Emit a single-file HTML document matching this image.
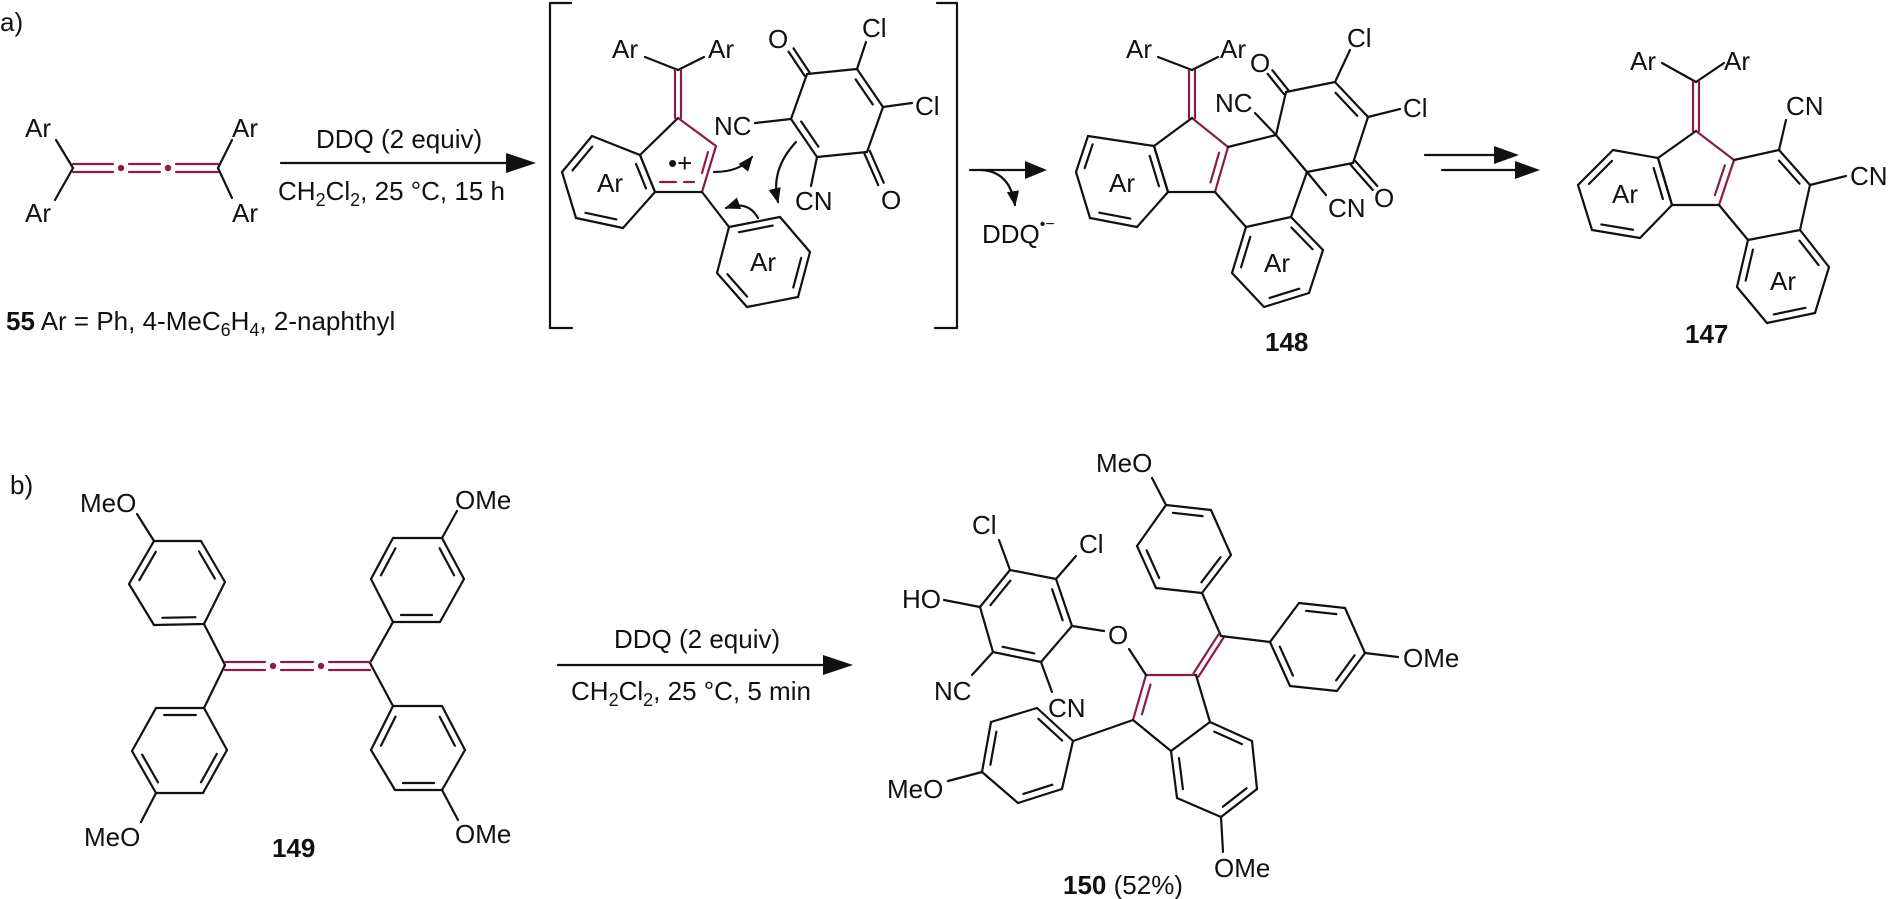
<!DOCTYPE html>
<html><head><meta charset="utf-8">
<style>
html,body{margin:0;padding:0;background:#fff;}
svg{display:block}
text{font-family:"Liberation Sans",Arial,sans-serif;font-size:26px;fill:#111;}
.b{font-weight:bold}
</style></head>
<body>
<svg id="s" width="1890" height="899" viewBox="0 0 1890 899" xmlns="http://www.w3.org/2000/svg">
<defs>
<marker id="ah" viewBox="0 0 10 10" refX="9" refY="5" markerWidth="7" markerHeight="7" orient="auto"><path d="M0,1 L10,5 L0,9 z" fill="#111"/></marker>
</defs>
<g id="g" stroke="#111" stroke-width="2.2" fill="none" stroke-linecap="round"></g>
<g fill="#111">
<!-- main arrowheads -->
<polygon points="536,163 506,153 506,173"/>
<polygon points="1047,170 1025,161 1025,179"/>
<polygon points="1519,155 1494,146 1494,164"/>
<polygon points="1540,170 1515,161 1515,179"/>
<polygon points="853,665 823,655 823,675"/>
<circle cx="121" cy="168" r="3.2" fill="#8a1c4b"/>
<circle cx="168" cy="168" r="3.2" fill="#8a1c4b"/>
<circle cx="273" cy="666" r="3.2" fill="#8a1c4b"/>
<circle cx="321" cy="666" r="3.2" fill="#8a1c4b"/>
</g>
<!-- texts part a -->
<text x="0" y="31">a)</text>
<text x="25" y="137">Ar</text><text x="25" y="222">Ar</text>
<text x="232" y="137">Ar</text><text x="232" y="222">Ar</text>
<text x="6" y="330"><tspan class="b">55</tspan>  Ar = Ph, 4-MeC<tspan font-size="18" dy="6">6</tspan><tspan dy="-6">H</tspan><tspan font-size="18" dy="6">4</tspan><tspan dy="-6">, 2-naphthyl</tspan></text>
<text x="316" y="148">DDQ (2 equiv)</text>
<text x="278" y="200">CH<tspan font-size="18" dy="6">2</tspan><tspan dy="-6">Cl</tspan><tspan font-size="18" dy="6">2</tspan><tspan dy="-6">, 25 °C, 15 h</tspan></text>
<text x="612" y="58">Ar</text><text x="708" y="58">Ar</text>
<text x="597" y="192">Ar</text>
<text x="668" y="172" font-size="18">•+</text>
<text x="714" y="135">NC</text>
<text x="768" y="48">O</text>
<text x="862" y="37">Cl</text>
<text x="915" y="115">Cl</text>
<text x="881" y="209">O</text>
<text x="795" y="210">CN</text>
<text x="750" y="271">Ar</text>
<text x="982" y="243">DDQ<tspan font-size="16" dy="-14">•−</tspan></text>
<text x="1126" y="58">Ar</text><text x="1220" y="58">Ar</text>
<text x="1109" y="192">Ar</text>
<text x="1215" y="112">NC</text>
<text x="1250" y="72">O</text>
<text x="1347" y="47">Cl</text>
<text x="1403" y="117">Cl</text>
<text x="1374" y="207">O</text>
<text x="1328" y="217">CN</text>
<text x="1264" y="272">Ar</text>
<text x="1265" y="351" class="b">148</text>
<text x="1630" y="70">Ar</text><text x="1724" y="70">Ar</text>
<text x="1612" y="203">Ar</text>
<text x="1786" y="115">CN</text>
<text x="1850" y="185">CN</text>
<text x="1770" y="290">Ar</text>
<text x="1685" y="343" class="b">147</text>
<!-- part b -->
<text x="10" y="494">b)</text>
<text x="80" y="512">MeO</text>
<text x="84" y="846">MeO</text>
<text x="455" y="509">OMe</text>
<text x="455" y="843">OMe</text>
<text x="272" y="857" class="b">149</text>
<text x="614" y="648">DDQ (2 equiv)</text>
<text x="571" y="700">CH<tspan font-size="18" dy="6">2</tspan><tspan dy="-6">Cl</tspan><tspan font-size="18" dy="6">2</tspan><tspan dy="-6">, 25 °C, 5 min</tspan></text>
<text x="1096" y="472">MeO</text>
<text x="972" y="534">Cl</text>
<text x="1079" y="553">Cl</text>
<text x="902" y="608">HO</text>
<text x="1108" y="644">O</text>
<text x="934" y="700">NC</text>
<text x="1048" y="717">CN</text>
<text x="887" y="798">MeO</text>
<text x="1403" y="667">OMe</text>
<text x="1214" y="877">OMe</text>
<text x="1063" y="894"><tspan class="b">150</tspan> (52%)</text>
</svg>
<script>
(function(){
var g=document.getElementById('g'),NS='http://www.w3.org/2000/svg',M='#8a1c4b';
function L(x1,y1,x2,y2,c){var l=document.createElementNS(NS,'line');l.setAttribute('x1',x1);l.setAttribute('y1',y1);l.setAttribute('x2',x2);l.setAttribute('y2',y2);if(c)l.setAttribute('stroke',c);g.appendChild(l);}
function P(d,c,m){var p=document.createElementNS(NS,'path');p.setAttribute('d',d);if(c)p.setAttribute('stroke',c);if(m)p.setAttribute('marker-end','url(#ah)');g.appendChild(p);}
function inner(a,b,cx,cy,c){var mx=(a[0]+b[0])/2,my=(a[1]+b[1])/2,dx=b[0]-a[0],dy=b[1]-a[1],len=Math.hypot(dx,dy);var nx=-dy/len,ny=dx/len;if((cx-mx)*nx+(cy-my)*ny<0){nx=-nx;ny=-ny;}var o=7,s=0.17;L(a[0]+dx*s+nx*o,a[1]+dy*s+ny*o,b[0]-dx*s+nx*o,b[1]-dy*s+ny*o,c);}
function ring(v,d,c){var n=v.length,cx=0,cy=0;v.forEach(function(p){cx+=p[0];cy+=p[1];});cx/=n;cy/=n;for(var i=0;i<n;i++){var a=v[i],b=v[(i+1)%n];L(a[0],a[1],b[0],b[1]);if(d.indexOf(i)>=0)inner(a,b,cx,cy,c);}}
function dbl(a,b,c,off){off=off||3;var dx=b[0]-a[0],dy=b[1]-a[1],len=Math.hypot(dx,dy),nx=-dy/len*off,ny=dx/len*off;L(a[0]+nx,a[1]+ny,b[0]+nx,b[1]+ny,c);L(a[0]-nx,a[1]-ny,b[0]-nx,b[1]-ny,c);}
function path(pts,c){for(var i=0;i<pts.length-1;i++)L(pts[i][0],pts[i][1],pts[i+1][0],pts[i+1][1],c);}
// 55
L(56,140,73,168);L(73,168,55,200);L(232,140,218,168);L(218,168,232,198);
L(73,164,113,164,M);L(73,172,113,172,M);L(129,164,160,164,M);L(129,172,160,172,M);L(176,164,218,164,M);L(176,172,218,172,M);
L(281,163,510,163);
// brackets
path([[571,3],[550,3],[550,328],[572,328]]);path([[937,3],[957,3],[957,328],[935,328]]);
// intermediate
L(645,57,678,70);L(678,70,704,57);dbl([678,70],[678,118],M);
L(678,118,716,146,M);L(716,146,702,192,M);L(702,192,655,192);L(655,192,640,155);L(640,155,678,118);
L(660,182,676,182,M);L(684,182,694,182,M);L(708,152,702,173,M);
ring([[640,155],[592,136],[562,172],[576,218],[623,228],[655,192]],[1,3,5]);
L(702,192,729,227);
ring([[729,227],[780,217],[810,252],[798,297],[747,307],[717,273]],[0,2,4]);
ring([[791,119],[807,74],[857,69],[883,107],[867,152],[817,157]],[2,5]);
L(755,123,791,119);dbl([807,74],[791,50]);L(857,69,866,42);L(883,107,912,103);dbl([867,152],[881,184]);L(817,157,811,186);
P('M714,172 Q740,172 752,157','',1);P('M796,142 Q770,170 778,202','',1);P('M758,218 Q748,200 726,208','',1);
// arrow with DDQ
L(970,170,1030,170);P('M982,170 Q1010,172 1015,205','',1);
// 148
L(1158,57,1192,70);L(1192,70,1218,57);dbl([1192,70],[1192,118],M);
L(1192,118,1228,147,M);L(1228,147,1215,192,M);inner([1228,147],[1215,192],1190,165,M);
L(1215,192,1168,192);L(1168,192,1154,146);L(1154,146,1192,118);
ring([[1154,146],[1088,136],[1076,172],[1090,218],[1137,227],[1168,192]],[1,3,5]);
L(1228,147,1276,135);
ring([[1276,135],[1286,92],[1335,82],[1368,117],[1353,163],[1307,172]],[2]);
L(1276,135,1255,113);dbl([1286,92],[1270,72]);L(1335,82,1350,50);L(1368,117,1400,109);dbl([1353,163],[1375,188]);L(1307,172,1326,195);
L(1215,192,1246,227);L(1307,172,1291,217);
ring([[1246,227],[1291,217],[1323,250],[1309,293],[1264,307],[1232,273]],[1,3,5]);
// double arrow
L(1425,155,1500,155);L(1442,170,1520,170);
// 147
L(1662,63,1696,82);L(1696,82,1724,63);dbl([1696,82],[1696,131],M);
L(1696,131,1734,160,M);L(1734,160,1719,205,M);inner([1734,160],[1719,205],1694,183,M);
L(1719,205,1672,205);L(1672,205,1658,158);L(1658,158,1696,131);
ring([[1658,158],[1613,150],[1578,185],[1592,230],[1640,238],[1672,205]],[1,3,5]);
L(1734,160,1779,150);L(1779,150,1810,185);inner([1779,150],[1810,185],1765,195);L(1810,185,1800,230);L(1748,240,1719,205);
L(1779,150,1786,120);L(1810,185,1846,176);
ring([[1748,240],[1800,230],[1829,267],[1815,313],[1767,323],[1737,287]],[1,3,5]);
// 149
L(225,665,204,624);L(225,665,204,708);L(370,663,393,622);L(370,663,393,706);
L(225,662,265,662,M);L(225,670,265,670,M);L(281,662,313,662,M);L(281,670,313,670,M);L(329,662,370,662,M);L(329,670,370,670,M);
ring([[204,624],[154,625],[129,584],[154,541],[201,541],[225,582]],[0,2,4]);L(154,541,137,514);
ring([[204,708],[156,708],[132,751],[156,793],[203,793],[227,750]],[0,2,4]);L(156,793,141,822);
ring([[393,622],[440,622],[464,579],[442,538],[393,538],[371,579]],[0,2,4]);L(442,538,457,511);
ring([[393,706],[442,706],[465,750],[442,790],[395,790],[371,750]],[1,3,5]);L(442,790,458,820);
L(558,665,830,665);
// 150
ring([[1166,505],[1211,510],[1231,555],[1202,593],[1156,588],[1137,546]],[0,2,4]);L(1166,505,1152,478);
L(1202,593,1221,636);dbl([1221,636],[1196,675],M);L(1221,636,1270,642);
ring([[1270,642],[1299,603],[1345,608],[1365,653],[1337,691],[1290,686]],[1,3,5]);L(1365,653,1398,657);
L(1133,720,1146,675,M);inner([1133,720],[1146,675],1171,708,M);L(1146,675,1196,675,M);
L(1196,675,1210,722);L(1171,751,1133,720);
ring([[1210,722],[1252,741],[1257,789],[1221,817],[1177,798],[1171,751]],[0,2,4]);L(1221,817,1223,852);
L(1146,675,1129,649);L(1104,631,1072,626);
ring([[1072,626],[1056,579],[1010,570],[980,607],[993,652],[1041,662]],[0,2,4]);
L(1056,579,1076,556);L(1010,570,999,540);L(980,607,944,600);L(993,652,972,675);L(1041,662,1052,692);
L(1133,720,1073,741);
ring([[1073,741],[1037,708],[991,722],[982,772],[1018,803],[1062,789]],[0,2,4]);L(982,772,948,781);
})();
</script>
</body></html>
